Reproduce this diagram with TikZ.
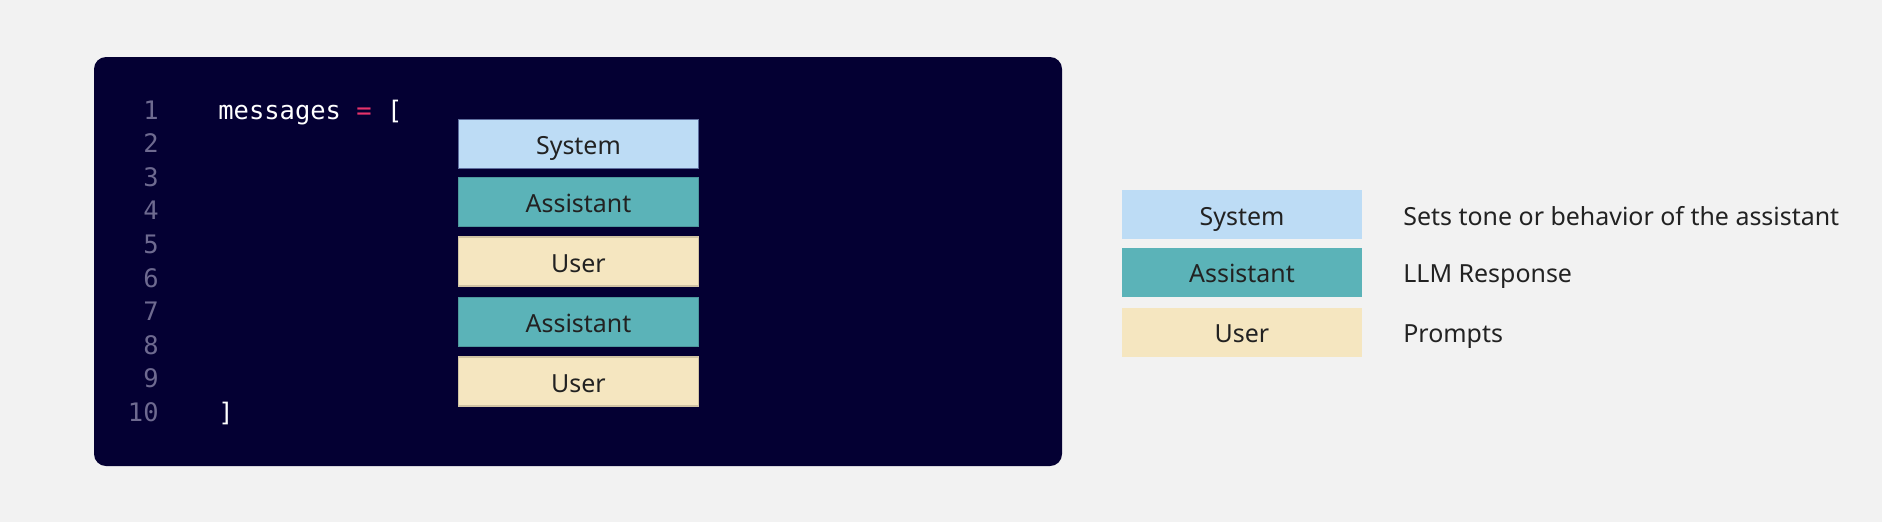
\documentclass[tikz,border=0pt]{standalone}
\usepackage{fontspec}
\setmainfont{Noto Sans}
\newfontfamily\codefont{DejaVu Sans Mono}
\usepackage{tikz}
\usetikzlibrary{positioning}

\definecolor{pagebg}{HTML}{F2F2F2}
\definecolor{editorbg}{HTML}{040033}
\definecolor{systemcolor}{HTML}{BDDCF5}
\definecolor{systemedge}{HTML}{5E6E9E}
\definecolor{assistantcolor}{HTML}{5BB3B8}
\definecolor{usercolor}{HTML}{F5E6C0}
\definecolor{linenumcolor}{HTML}{6E6A90}
\definecolor{opcolor}{HTML}{E8336B}
\definecolor{labelcolor}{HTML}{222222}

\begin{document}
\begin{tikzpicture}[
    x=0.02cm, y=-0.02cm,
    msg/.style={rectangle, minimum width=4.8cm, minimum height=0.98cm, inner sep=0pt,
      text height=12pt, text depth=0pt, text=labelcolor,
      font=\fontsize{14.2}{17}\selectfont, line width=0.6pt},
    sysmsg/.style={msg, fill=systemcolor, draw=systemedge},
    asstmsg/.style={msg, fill=assistantcolor, draw=assistantcolor!85!black},
    usermsg/.style={msg, fill=usercolor, draw=usercolor!85!black},
    code/.style={inner sep=0pt, font=\codefont\fontsize{14.5}{17}\selectfont},
    desc/.style={anchor=west, inner sep=0pt, text height=12pt, text depth=0pt,
      text=labelcolor, font=\fontsize{14.2}{17}\selectfont}
]
  % page and editor panel
  \fill[pagebg] (0,0) rectangle (1882,522);
  \useasboundingbox (0,0) rectangle (1882,522);
  \fill[editorbg, rounded corners=0.24cm] (94,57) rectangle (1062,466);

  % line numbers
  \foreach \n in {1,...,10}
    \node[code, text=linenumcolor, anchor=base east] (ln\n) at (159,{119+33.6*(\n-1)}) {\n};

  \node[code, text=white, anchor=base west] (open) at (218,119)
    {messages \textcolor{opcolor}{=} [};
  \node[code, text=white, anchor=base west] (close) at (218,421) {]};

  % message stack
  \node[sysmsg] (s1) at (578.5,144) {System};
  \node[asstmsg] (a1) at (578.5,202) {Assistant};
  \node[usermsg] (u1) at (578.5,261.5) {User};
  \node[asstmsg] (a2) at (578.5,322) {Assistant};
  \node[usermsg] (u2) at (578.5,381.5) {User};

  % legend
  \node[msg, fill=systemcolor] (ksys) at (1242,214.5) {System};
  \node[msg, fill=assistantcolor] (kasst) at (1242,272) {Assistant};
  \node[msg, fill=usercolor] (kuser) at (1242,332) {User};

  \node[desc] (dsys) at (1403,214.5) {Sets tone or behavior of the assistant};
  \node[desc] (dasst) at (1403,272) {LLM Response};
  \node[desc] (duser) at (1403,332) {Prompts};
\end{tikzpicture}
\end{document}
